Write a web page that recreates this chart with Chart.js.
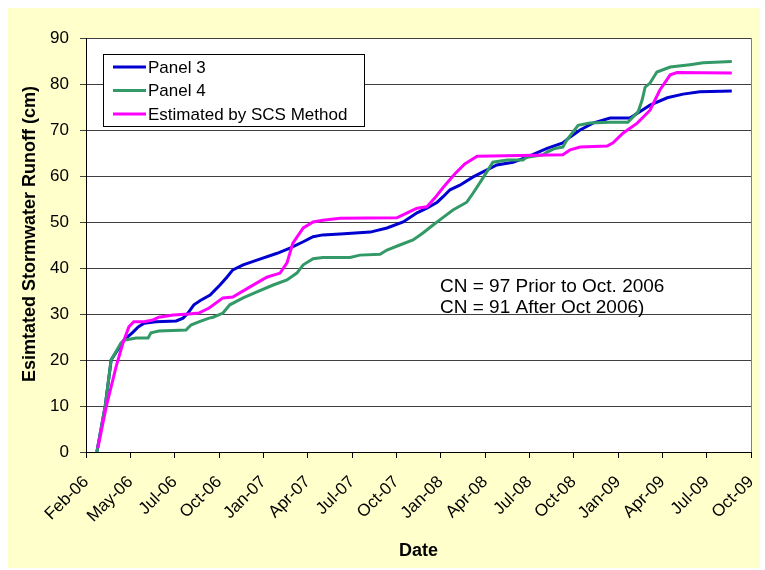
<!DOCTYPE html>
<html>
<head>
<meta charset="utf-8">
<script src="https://cdn.jsdelivr.net/npm/chart.js@4"></script>
<style>
  body { margin: 0; background: #fff; }
</style>
</head>
<body>
<canvas id="myChart" width="765" height="570"></canvas>
<script>
// tick labels along the date axis, one every 90 days from Feb 1 2006
const tickLabels = ['Feb-06', 'May-06', 'Jul-06', 'Oct-06', 'Jan-07', 'Apr-07', 'Jul-07', 'Oct-07',
    'Jan-08', 'Apr-08', 'Jul-08', 'Oct-08', 'Jan-09', 'Apr-09', 'Jul-09', 'Oct-09'];

// days since Feb 1 2006 / cumulative runoff (cm)
const panel3Days = [22, 39, 51, 77, 95, 106, 118, 142, 183, 197, 207, 219, 233, 252, 272, 286, 298, 319,
    347, 388, 414, 441, 461, 481, 516, 577, 611, 644, 672, 692, 713, 725, 739, 759, 786, 806, 834, 867,
    895, 936, 968, 983, 1003, 1029, 1064, 1104, 1125, 1145, 1180, 1212, 1246, 1311];
const panel3Runoff = [0, 10, 20, 24.3, 26, 27.2, 28, 28.3, 28.5, 29.1, 30.2, 32, 33, 34.1, 36.3, 38, 39.6, 40.7,
    41.7, 43.2, 44.3, 45.7, 46.8, 47.2, 47.4, 47.8, 48.7, 50, 52, 53, 54.3, 55.5, 57, 58, 59.8, 60.9, 62.4, 63,
    64.1, 66, 67.2, 68.5, 70, 71.5, 72.6, 72.6, 74, 75.4, 77, 77.8, 78.3, 78.5];

const panel4Days = [22, 39, 51, 71, 77, 102, 126, 132, 148, 203, 213, 229, 250, 258, 278, 292, 319, 347, 380,
    408, 428, 441, 461, 481, 536, 556, 597, 611, 637, 664, 684, 704, 725, 745, 773, 786, 806, 826, 855, 887,
    895, 928, 936, 952, 968, 976, 999, 1023, 1064, 1100, 1121, 1129, 1135, 1145, 1159, 1186, 1226, 1253, 1311];
const panel4Runoff = [0, 10, 20, 23.7, 24.3, 24.8, 24.8, 25.9, 26.3, 26.5, 27.6, 28.3, 29.1, 29.3, 30.2, 32, 33.5,
    34.8, 36.3, 37.4, 38.9, 40.7, 42, 42.3, 42.3, 42.8, 43, 43.9, 45, 46.1, 47.6, 49.3, 51, 52.6, 54.3, 56.3,
    59.6, 63, 63.5, 63.5, 64.1, 64.6, 65.2, 66, 66.3, 67.8, 71, 71.5, 71.7, 71.7, 74, 76.5, 79.3, 80.2, 82.6,
    83.7, 84.2, 84.6, 84.9];

const scsDays = [24, 41, 61, 75, 87, 97, 118, 136, 148, 177, 209, 229, 250, 278, 298, 333, 367, 394, 408, 420,
    441, 461, 481, 516, 631, 652, 672, 692, 708, 725, 749, 769, 794, 968, 983, 1003, 1058, 1070, 1090, 1119,
    1145, 1165, 1186, 1200, 1311];
const scsRunoff = [0.8, 9.8, 18.5, 23.7, 27.2, 28.3, 28.3, 28.7, 29.3, 29.8, 30, 30.2, 31.3, 33.5, 33.7, 35.9,
    38, 38.9, 41.1, 45.4, 48.7, 50, 50.4, 50.8, 50.9, 52, 53, 53.3, 55.2, 57.5, 60.5, 62.6, 64.3, 64.6, 65.7,
    66.3, 66.5, 67.2, 69.3, 71.5, 74.3, 78.7, 82, 82.5, 82.4];

const noteLines = ['CN = 97 Prior to Oct. 2006', 'CN = 91 After Oct 2006)'];

// pair up days and values for the line datasets
function toPoints(days, values) {
    return days.map((d, i) => ({ x: d, y: values[i] }));
}

const FONT = "'Liberation Sans', Arial, sans-serif";

// yellow page, white plot, boxed legend, note and y title
const excelLook = {
    id: 'excelLook',
    beforeDraw(chart) {
        const { ctx, chartArea: a } = chart;
        ctx.save();
        ctx.fillStyle = '#ffffff';
        ctx.fillRect(0, 0, chart.width, chart.height);
        ctx.fillStyle = '#FFFFCC';
        ctx.fillRect(8, 8, 752, 560);
        ctx.fillStyle = '#ffffff';
        ctx.fillRect(a.left, a.top, a.right - a.left, a.bottom - a.top);
        ctx.strokeStyle = '#808080';
        ctx.lineWidth = 1;
        ctx.beginPath();
        ctx.moveTo(a.right + 0.5, a.top);
        ctx.lineTo(a.right + 0.5, a.bottom);
        ctx.stroke();
        ctx.restore();
    },
    afterDraw(chart) {
        const { ctx } = chart;
        ctx.save();

        // legend box
        ctx.fillStyle = '#ffffff';
        ctx.fillRect(103, 54, 261, 72);
        ctx.strokeStyle = '#000000';
        ctx.lineWidth = 1;
        ctx.strokeRect(103.5, 54.5, 261, 72);
        ctx.font = '17px ' + FONT;
        ctx.textBaseline = 'middle';
        chart.data.datasets.forEach((ds, i) => {
            const y = 67 + i * 23.5;
            ctx.strokeStyle = ds.borderColor;
            ctx.lineWidth = 3;
            ctx.beginPath();
            ctx.moveTo(113, y);
            ctx.lineTo(146, y);
            ctx.stroke();
            ctx.fillStyle = '#000000';
            ctx.fillText(ds.label, 148, y + 1);
        });

        // note
        ctx.font = '19px ' + FONT;
        ctx.textBaseline = 'alphabetic';
        ctx.fillText(noteLines[0], 440, 292);
        ctx.fillText(noteLines[1], 440, 313);

        // y axis title
        ctx.translate(30, 234);
        ctx.rotate(-Math.PI / 2);
        ctx.font = 'bold 18px ' + FONT;
        ctx.textAlign = 'center';
        ctx.textBaseline = 'middle';
        ctx.fillText('Esimtated Stormwater Runoff (cm)', 0, 0);
        ctx.restore();
    }
};

const ctx = document.getElementById('myChart').getContext('2d');
const myChart = new Chart(ctx, { // eslint-disable-line
    type: 'line',
    data: {
        datasets: [
            {
                label: 'Panel 3',
                data: toPoints(panel3Days, panel3Runoff),
                borderColor: '#0000D0',
                borderWidth: 3,
                pointRadius: 0,
                order: 3
            },
            {
                label: 'Panel 4',
                data: toPoints(panel4Days, panel4Runoff),
                borderColor: '#339966',
                borderWidth: 3,
                pointRadius: 0,
                order: 2
            },
            {
                label: 'Estimated by SCS Method',
                data: toPoints(scsDays, scsRunoff),
                borderColor: '#FF00FF',
                borderWidth: 3,
                pointRadius: 0,
                order: 1
            }
        ]
    },
    options: {
        responsive: false,
        animation: false,
        layout: { padding: { left: 0, top: 38, right: 14, bottom: 0 } },
        plugins: {
            legend: { display: false },
            tooltip: { enabled: false }
        },
        scales: {
            x: {
                type: 'linear',
                min: 0,
                max: 1350,
                afterFit: (scale) => {
                    scale.height = 118;
                    scale.paddingLeft = 0;
                    scale.paddingRight = 0;
                },
                border: { color: '#000000', width: 1 },
                grid: { drawOnChartArea: false, tickLength: 6, color: '#000000' },
                ticks: {
                    stepSize: 90,
                    autoSkip: false,
                    minRotation: 45,
                    maxRotation: 45,
                    padding: 14,
                    color: '#000000',
                    font: { family: FONT, size: 17 },
                    callback: (value, index) => tickLabels[index]
                },
                title: {
                    display: true,
                    text: 'Date',
                    color: '#000000',
                    font: { family: FONT, size: 18, weight: 'bold' },
                    padding: { top: 0, bottom: 8 }
                }
            },
            y: {
                min: 0,
                max: 90,
                afterFit: (scale) => { scale.width = 86; },
                border: { color: '#000000', width: 1 },
                grid: { color: '#404040', tickLength: 6 },
                ticks: {
                    stepSize: 10,
                    padding: 11,
                    color: '#000000',
                    font: { family: FONT, size: 17 }
                }
            }
        }
    },
    plugins: [excelLook]
});
</script>
</body>
</html>
